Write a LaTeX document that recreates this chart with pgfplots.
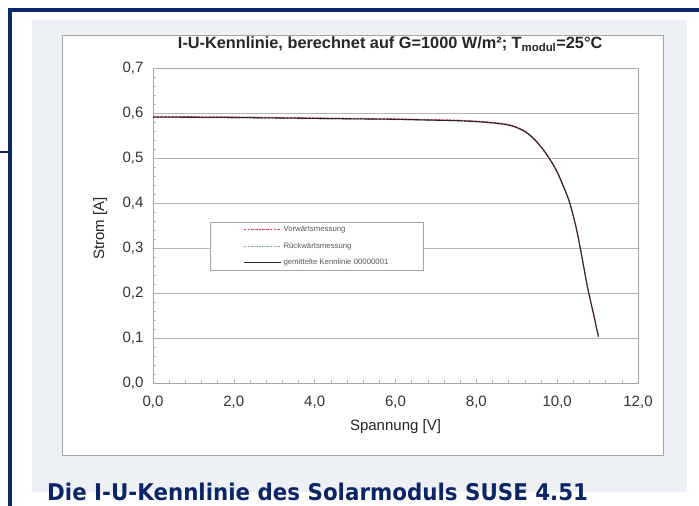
\documentclass[border=0pt]{standalone}
\usepackage{fontspec}
\setmainfont{Liberation Sans}
\newfontfamily\capfont{DejaVu Sans}
\usepackage{pgfplots}
\pgfplotsset{compat=1.18}
\definecolor{navy}{RGB}{10,38,105}
\definecolor{bggray}{RGB}{237,240,244}
\definecolor{framegray}{RGB}{165,165,165}
\definecolor{gridgray}{RGB}{180,180,180}
\definecolor{curve}{RGB}{50,35,40}
\definecolor{redd}{RGB}{230,50,120}
\definecolor{greeng}{RGB}{140,170,150}
\begin{document}
\begin{tikzpicture}[x=1pt,y=1pt]
\useasboundingbox (0,0) rectangle (699,506);
\fill[bggray] (32,14) rectangle (687,486);
\draw[framegray, fill=white, line width=0.8pt] (62,51) rectangle (663,471);
\fill[navy] (8,494) rectangle (699,498);
\fill[navy] (8,0) rectangle (12,498);
\fill[navy] (0,353) rectangle (8,355);
\node[anchor=base west, inner sep=0pt, text=navy] at (47,5)
  {\scalebox{0.93}[1]{\capfont\bfseries\fontsize{23}{26}\selectfont Die I-U-Kennlinie des Solarmoduls SUSE 4.51}};
\begin{axis}[
  at={(153pt,123pt)}, anchor=south west,
  scale only axis, width=485pt, height=315pt,
  xmin=0, xmax=12, ymin=0, ymax=0.7,
  xtick={0,2,...,12}, ytick={0,0.1,...,0.7},
  minor x tick num=4, minor y tick num=4,
  tick pos=left, tick align=inside,
  major tick length=4pt, minor tick length=3pt,
  every tick/.style={gridgray, line width=0.6pt},
  axis line style={framegray, line width=0.8pt},
  ymajorgrids, major grid style={gridgray, line width=0.8pt},
  /pgf/number format/assume math mode=true,
  ticklabel style={font=\fontsize{15}{17}\selectfont, text=black!80},
  xticklabel style={yshift=-9pt, /pgf/number format/.cd, fixed, fixed zerofill, precision=1, use comma},
  yticklabel style={xshift=-6pt, /pgf/number format/.cd, fixed, fixed zerofill, precision=1, use comma},
  title={I-U-Kennlinie, berechnet auf G=1000 W/m²; T\textsubscript{modul}=25°C},
  title style={at={(rel axis cs:0.489,1.043)}, anchor=base, inner sep=0pt, text=black!85, font=\bfseries\fontsize{16.3}{18}\selectfont},
  xlabel={Spannung [V]},
  xlabel style={at={(rel axis cs:0.5,-0.152)}, anchor=base, inner sep=0pt, text=black!85, font=\fontsize{15}{17}\selectfont},
  ylabel={Strom [A]},
  ylabel style={at={(rel axis cs:-0.109,0.49)}, anchor=center, inner sep=0pt, text=black!85, font=\fontsize{15}{17}\selectfont},
  legend style={at={(rel axis cs:0.118,0.511)}, anchor=north west, draw=framegray, fill=white,
    font=\fontsize{7.8}{9}\selectfont, text=black!65, inner xsep=33pt, inner ysep=2pt, row sep=5.5pt, cells={anchor=west}},
  legend cell align=left,
  legend image code/.code={\draw[#1] (0pt,0pt) -- (37pt,0pt);},
]
\addplot[redd, dash pattern=on 2.5pt off 1.2pt, line width=0.9pt, smooth, tension=0.5] coordinates {
(0,0.5925) (1,0.5918) (2,0.5912) (3,0.5902) (4,0.5892) (5,0.5882) (6,0.5872) (7,0.5852) (7.5,0.5842) (8.0,0.5822) (8.4,0.5792) (8.7,0.5762) (8.93,0.5712) (9.2,0.5602) (9.43,0.5432) (9.65,0.5202) (9.84,0.4952) (10.0,0.4702) (10.13,0.4432) (10.25,0.4172) (10.34,0.3922) (10.47,0.3462) (10.59,0.2922) (10.75,0.2142) (10.9,0.1542) (11.02,0.1042)};
\addlegendentry{Vorwärtsmessung}
\addplot[greeng, dash pattern=on 2.5pt off 1.2pt, line width=0.9pt, smooth, tension=0.5] coordinates {
(0,0.5905) (1,0.5898) (2,0.5892) (3,0.5882) (4,0.5872) (5,0.5862) (6,0.5852) (7,0.5832) (7.5,0.5822) (8.0,0.5802) (8.4,0.5772) (8.7,0.5742) (8.93,0.5692) (9.2,0.5582) (9.43,0.5412) (9.65,0.5182) (9.84,0.4932) (10.0,0.4682) (10.13,0.4412) (10.25,0.4152) (10.34,0.3902) (10.47,0.3442) (10.59,0.2902) (10.75,0.2122) (10.9,0.1522) (11.02,0.1022)};
\addlegendentry{Rückwärtsmessung}
\addplot[curve, line width=1.1pt, smooth, tension=0.5] coordinates {
(0,0.591) (1,0.5905) (2,0.590) (3,0.589) (4,0.588) (5,0.587) (6,0.586) (7,0.584) (7.5,0.583) (8.0,0.581) (8.4,0.578) (8.7,0.575) (8.93,0.570) (9.2,0.559) (9.43,0.542) (9.65,0.519) (9.84,0.494) (10.0,0.469) (10.13,0.442) (10.25,0.416) (10.34,0.391) (10.47,0.345) (10.59,0.291) (10.75,0.213) (10.9,0.153) (11.02,0.103)};
\addlegendentry{gemittelte Kennlinie 00000001}
\end{axis}
\end{tikzpicture}
\end{document}
